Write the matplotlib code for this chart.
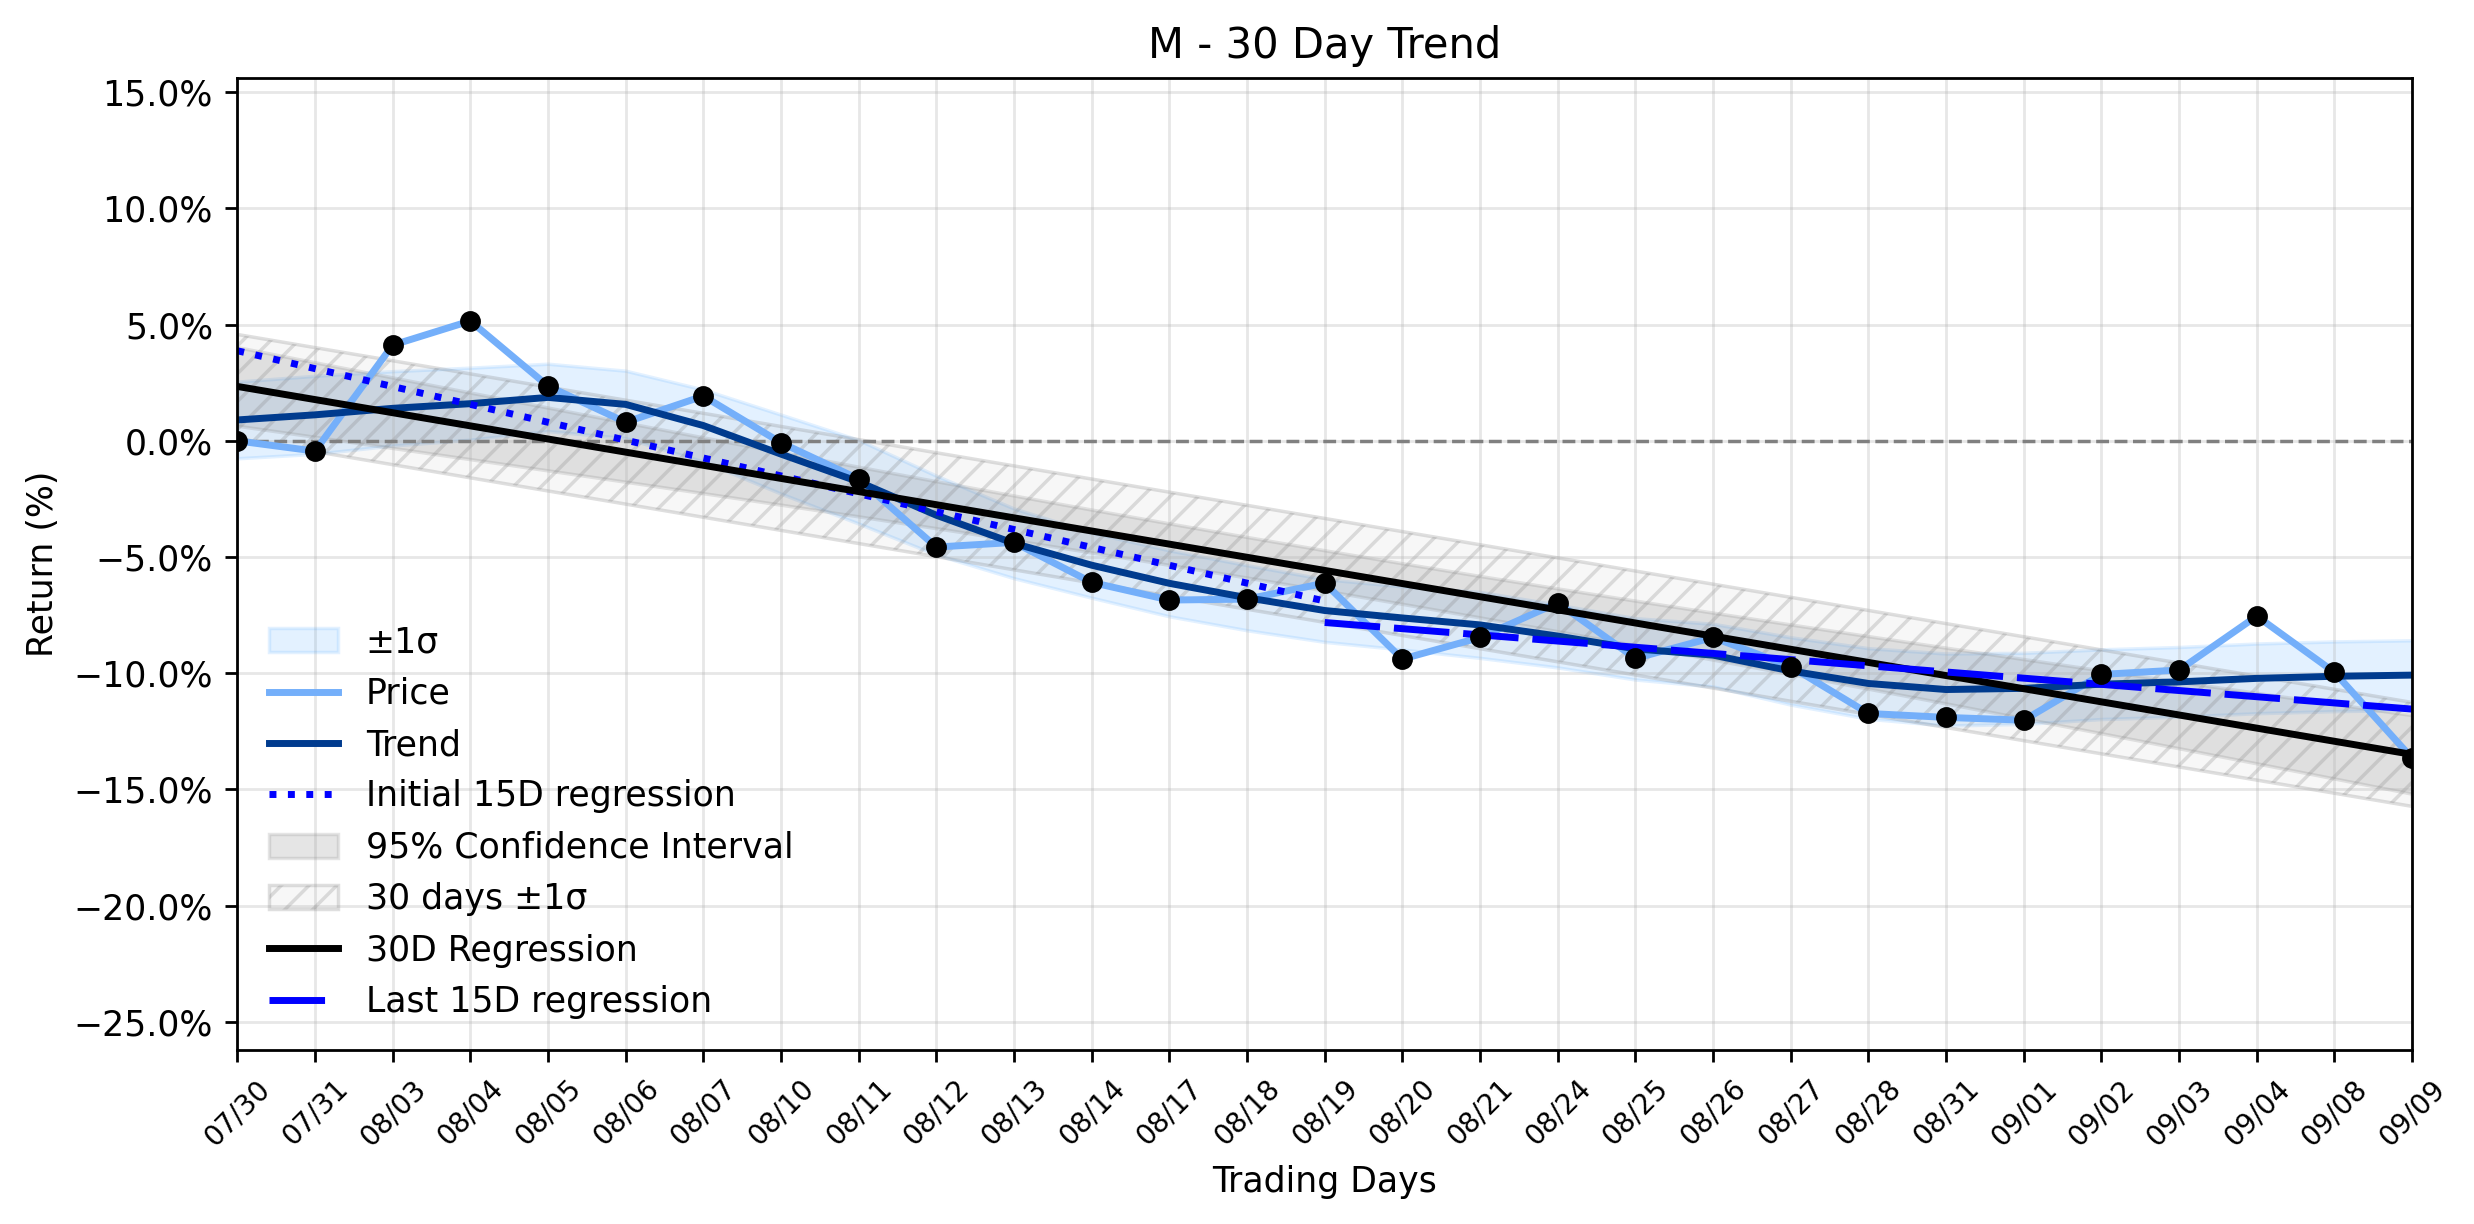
import numpy as np
import matplotlib
matplotlib.use("Agg")
import matplotlib.pyplot as plt
from matplotlib.ticker import PercentFormatter

# ---------------- data ----------------
dates = ["07/30", "07/31", "08/03", "08/04", "08/05", "08/06", "08/07", "08/10",
         "08/11", "08/12", "08/13", "08/14", "08/17", "08/18", "08/19", "08/20",
         "08/21", "08/24", "08/25", "08/26", "08/27", "08/28", "08/31", "09/01",
         "09/02", "09/03", "09/04", "09/08", "09/09"]

price = [0.00, -0.44, 4.12, 5.16, 2.36, 0.80, 1.93, -0.08, -1.64, -4.57,
         -4.37, -6.09, -6.85, -6.81, -6.12, -9.39, -8.46, -6.97, -9.36, -8.46,
         -9.71, -11.73, -11.90, -12.02, -10.05, -9.86, -7.54, -9.96, -13.66]

trend = [0.90, 1.12, 1.40, 1.60, 1.87, 1.57, 0.66, -0.57, -1.76, -3.20,
         -4.41, -5.35, -6.13, -6.75, -7.30, -7.62, -7.92, -8.40, -8.95, -9.22,
         -9.90, -10.44, -10.70, -10.65, -10.47, -10.37, -10.22, -10.13, -10.08]

trend_sigma = [1.65, 1.68, 1.60, 1.55, 1.45, 1.45, 1.55, 1.70, 1.80, 1.70,
               1.50, 1.40, 1.42, 1.40, 1.35, 1.36, 1.42, 1.35, 1.32, 1.35,
               1.45, 1.52, 1.55, 1.53, 1.50, 1.50, 1.50, 1.50, 1.50]

yticks = [-25, -20, -15, -10, -5, 0, 5, 10, 15]
window = 15
t_crit = 2.052  # Student t, 95%, n-2 = 27 dof

# ---------------- derived statistics ----------------
x = np.arange(len(dates))
p = np.array(price)
t = np.array(trend)
s = np.array(trend_sigma)

slope, icpt = np.polyfit(x, p, 1)
reg = icpt + slope * x
resid = p - reg
sd = np.std(resid, ddof=1)
se = np.sqrt(np.sum(resid ** 2) / (len(x) - 2))
ci = t_crit * se * np.sqrt(1.0 / len(x) + (x - x.mean()) ** 2 / np.sum((x - x.mean()) ** 2))

xi = x[:window]
s1, i1 = np.polyfit(xi, p[:window], 1)
xl = x[-window:]
s2, i2 = np.polyfit(xl, p[-window:], 1)

# ---------------- figure ----------------
fig = plt.figure(figsize=(2474 / 250, 1224 / 250), dpi=250)
ax = fig.add_axes([0.0959, 0.142, 0.8791, 0.794])

ax.axhline(0, color="gray", ls="--", lw=1)

ax.fill_between(x, t - s, t + s, color="dodgerblue", alpha=0.12, label="±1σ")
ax.plot(x, p, color="#74AFFA", lw=2, label="Price")
ax.plot(x, t, color="#003b8e", lw=2, label="Trend")
ax.plot(xi, i1 + s1 * xi, color="blue", ls=":", lw=2, label="Initial 15D regression")
ax.fill_between(x, reg - ci, reg + ci, color="gray", alpha=0.2,
                label="95% Confidence Interval")
ax.fill_between(x, reg - sd, reg + sd, facecolor=(0.5, 0.5, 0.5, 0.06),
                edgecolor=(0.5, 0.5, 0.5, 0.25), hatch="///", lw=1,
                label="30 days ±1σ")
ax.plot(x, reg, color="black", lw=2, label="30D Regression")
ax.plot(xl, i2 + s2 * xl, color="blue", ls=(0, (8, 2)), lw=2,
        label="Last 15D regression")
ax.plot(x, p, ls="none", marker="o", ms=5, color="black", zorder=5)

ax.set_xlim(0, len(dates) - 1)
ax.set_ylim(-26.22, 15.6)
ax.set_xticks(x)
ax.set_xticklabels(dates, rotation=45, fontsize=8)
ax.set_yticks(yticks)
ax.yaxis.set_major_formatter(PercentFormatter(xmax=100, decimals=1))
ax.grid(True, alpha=0.3)

ax.set_title("M - 30 Day Trend", fontsize=12)
ax.set_xlabel("Trading Days")
ax.set_ylabel("Return (%)")
ax.legend(loc="lower left", frameon=False)

fig.savefig("out.png", dpi=250)
